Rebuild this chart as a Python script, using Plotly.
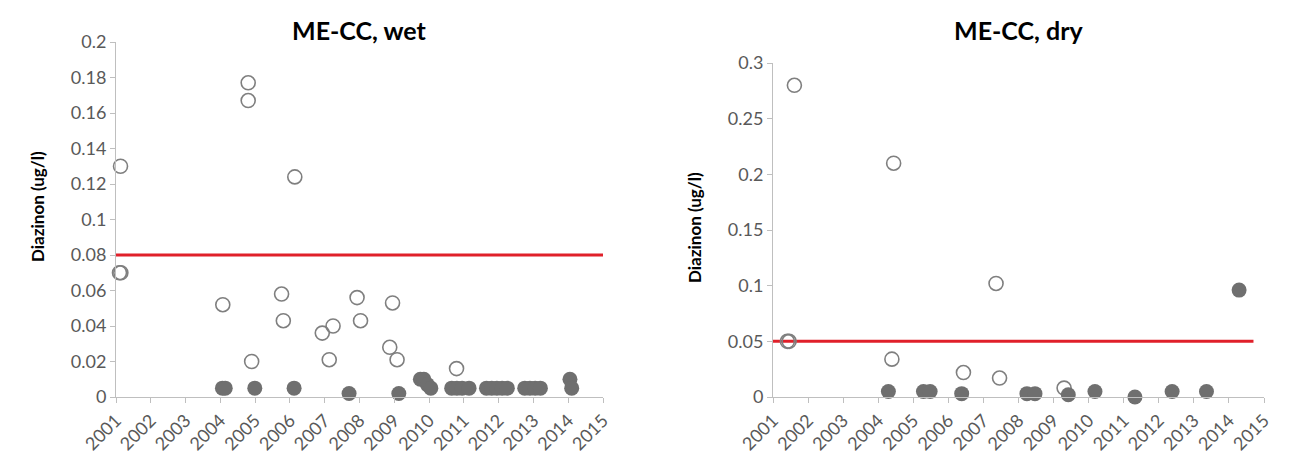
import plotly.graph_objects as go

# ---- data: ME-CC, wet ----
wet_open_x = [2001.13, 2001.10, 2001.14, 2004.80, 2004.80, 2006.14, 2004.07, 2005.76, 2005.81,
              2004.90, 2006.93, 2007.24, 2007.13, 2007.93, 2008.03, 2008.95, 2008.87, 2009.08, 2010.79]
wet_open_y = [0.130, 0.070, 0.070, 0.177, 0.167, 0.124, 0.052, 0.058, 0.043,
              0.020, 0.036, 0.040, 0.021, 0.056, 0.043, 0.053, 0.028, 0.021, 0.016]
wet_fill_x = [2004.06, 2004.14, 2004.99, 2006.12, 2007.70, 2009.13,
              2009.75, 2009.85, 2009.95, 2010.05,
              2010.65, 2010.80, 2010.95, 2011.15,
              2011.65, 2011.80, 2011.95, 2012.10, 2012.25,
              2012.75, 2012.90, 2013.05, 2013.20,
              2014.05, 2014.10]
wet_fill_y = [0.005, 0.005, 0.005, 0.005, 0.002, 0.002,
              0.010, 0.010, 0.007, 0.005,
              0.005, 0.005, 0.005, 0.005,
              0.005, 0.005, 0.005, 0.005, 0.005,
              0.005, 0.005, 0.005, 0.005,
              0.010, 0.005]
wet_limit_x = [2001, 2015]
wet_limit_y = [0.08, 0.08]

# ---- data: ME-CC, dry ----
dry_open_x = [2001.61, 2004.44, 2001.41, 2001.46, 2004.39, 2006.43, 2007.36, 2007.46, 2009.30]
dry_open_y = [0.280, 0.210, 0.050, 0.050, 0.034, 0.022, 0.102, 0.017, 0.008]
dry_fill_x = [2004.29, 2005.29, 2005.48, 2006.38, 2008.24, 2008.47, 2009.42, 2010.18,
              2011.32, 2012.38, 2013.36, 2014.29]
dry_fill_y = [0.005, 0.005, 0.005, 0.003, 0.003, 0.003, 0.002, 0.005,
              0.000, 0.005, 0.005, 0.096]
dry_limit_x = [2001, 2014.7]
dry_limit_y = [0.05, 0.05]

years = list(range(2001, 2016))
year_labels = [str(y) for y in years]
wet_yticks = [0, 0.02, 0.04, 0.06, 0.08, 0.1, 0.12, 0.14, 0.16, 0.18, 0.2]
wet_ylabels = ["0", "0.02", "0.04", "0.06", "0.08", "0.1", "0.12", "0.14", "0.16", "0.18", "0.2"]
dry_yticks = [0, 0.05, 0.1, 0.15, 0.2, 0.25, 0.3]
dry_ylabels = ["0", "0.05", "0.1", "0.15", "0.2", "0.25", "0.3"]

W, H = 1294, 459
OPEN_C = "#7f7f7f"
FILL_C = "#6f6f6f"
RED = "#e0202a"
FONT = "Lato, 'Open Sans', sans-serif"
TICK_FONT = dict(family=FONT, size=18, color="#595959")

fig = go.Figure()

def add_panel(xa, ya, ox, oy, fx, fy, lx, ly):
    fig.add_trace(go.Scatter(x=lx, y=ly, mode="lines", line=dict(color=RED, width=3),
                             xaxis=xa, yaxis=ya, showlegend=False, hoverinfo="skip"))
    fig.add_trace(go.Scatter(x=ox, y=oy, mode="markers", cliponaxis=False,
                             marker=dict(symbol="circle-open", size=14, color=OPEN_C,
                                         line=dict(width=1.6, color=OPEN_C)),
                             xaxis=xa, yaxis=ya, showlegend=False))
    fig.add_trace(go.Scatter(x=fx, y=fy, mode="markers", cliponaxis=False,
                             marker=dict(symbol="circle", size=15, color=FILL_C,
                                         line=dict(width=0)),
                             xaxis=xa, yaxis=ya, showlegend=False))

add_panel("x", "y", wet_open_x, wet_open_y, wet_fill_x, wet_fill_y, wet_limit_x, wet_limit_y)
add_panel("x2", "y2", dry_open_x, dry_open_y, dry_fill_x, dry_fill_y, dry_limit_x, dry_limit_y)

xcommon = dict(range=[2001, 2015], tickvals=years, ticktext=year_labels, tickangle=-45,
               showline=True, linecolor="#bfbfbf", linewidth=1, ticks="outside",
               ticklen=5, tickcolor="#bfbfbf", showgrid=False, zeroline=False,
               tickfont=TICK_FONT, automargin=False)
ycommon = dict(showline=True, linecolor="#bfbfbf", linewidth=1, ticks="outside",
               ticklen=5, tickcolor="#bfbfbf", showgrid=False, zeroline=False,
               tickfont=TICK_FONT, automargin=False)

def ann(text, x, y, size, angle=0):
    return dict(text=text, x=x / W, y=1 - y / H, xref="paper", yref="paper",
                xanchor="center", yanchor="middle", textangle=angle, showarrow=False,
                font=dict(family=FONT, size=size, color="#000"))

fig.update_layout(
    width=W, height=H,
    margin=dict(l=0, r=0, t=0, b=0),
    paper_bgcolor="white", plot_bgcolor="white",
    xaxis=dict(domain=[116 / W, 603 / W], anchor="y", **xcommon),
    yaxis=dict(domain=[1 - 397 / H, 1 - 42 / H], anchor="x", range=[0, 0.2],
               tickvals=wet_yticks, ticktext=wet_ylabels, **ycommon),
    xaxis2=dict(domain=[773 / W, 1264 / W], anchor="y2", **xcommon),
    yaxis2=dict(domain=[1 - 397 / H, 1 - 63 / H], anchor="x2", range=[0, 0.3],
                tickvals=dry_yticks, ticktext=dry_ylabels, **ycommon),
    annotations=[
        ann("<b>ME-CC, wet</b>", 359, 30, 25),
        ann("<b>ME-CC, dry</b>", 1018, 30, 25),
        ann("<b>Diazinon (ug/l)</b>", 38, 207, 17, -90),
        ann("<b>Diazinon (ug/l)</b>", 694, 227, 17, -90),
    ],
)

fig.write_html("out.html", config={"displayModeBar": False},
               post_script="document.body.style.margin='0';document.body.style.overflow='hidden';")
